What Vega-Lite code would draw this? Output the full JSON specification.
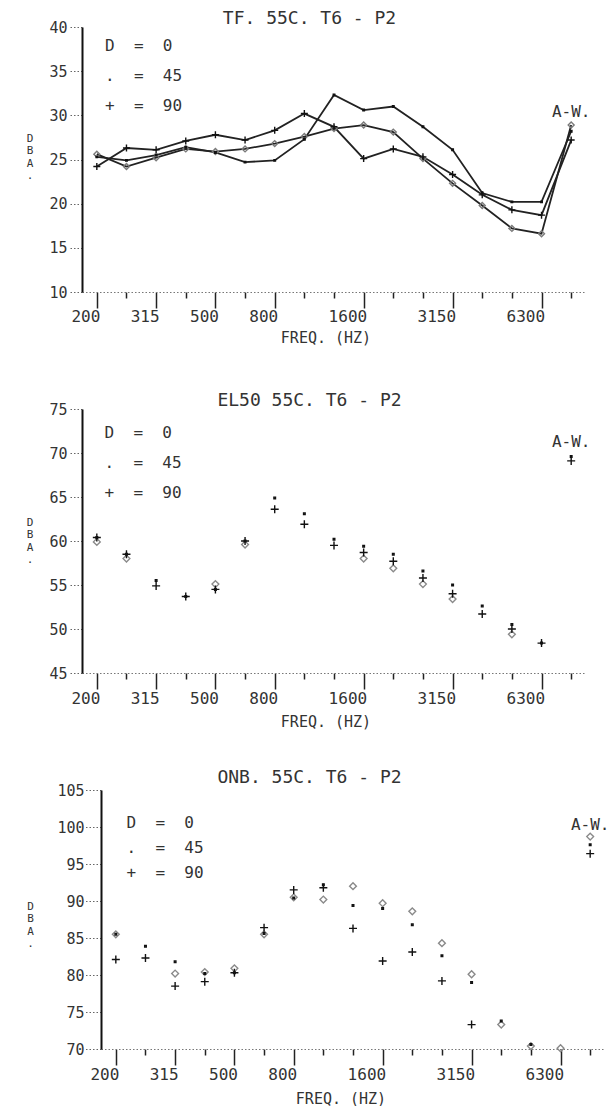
{
  "$schema": "https://vega.github.io/schema/vega-lite/v6.json",
  "background": "white",
  "padding": {"left": 26, "top": 10, "right": 0, "bottom": 0},
  "bounds": "flush",
  "spacing": 117,
  "config": {
    "font": "DejaVu Sans Mono",
    "view": {"stroke": null},
    "axis": {"labelFont": "DejaVu Sans Mono", "titleFont": "DejaVu Sans Mono", "labelColor": "#333", "titleColor": "#333", "titleFontWeight": "normal", "grid": false},
    "title": {"font": "DejaVu Sans Mono", "fontSize": 18, "fontWeight": "normal", "color": "#333", "anchor": "middle"},
    "legend": {"labelFont": "DejaVu Sans Mono"}
  },
  "datasets": {
    "tf": [
      {"freq": "200", "angle": "0", "dba": 25.6}, {"freq": "250", "angle": "0", "dba": 24.2}, {"freq": "315", "angle": "0", "dba": 25.2}, {"freq": "400", "angle": "0", "dba": 26.2}, {"freq": "500", "angle": "0", "dba": 25.9}, {"freq": "630", "angle": "0", "dba": 26.2}, {"freq": "800", "angle": "0", "dba": 26.8}, {"freq": "1000", "angle": "0", "dba": 27.6}, {"freq": "1250", "angle": "0", "dba": 28.5}, {"freq": "1600", "angle": "0", "dba": 28.9}, {"freq": "2000", "angle": "0", "dba": 28.1}, {"freq": "2500", "angle": "0", "dba": 25.1}, {"freq": "3150", "angle": "0", "dba": 22.3}, {"freq": "4000", "angle": "0", "dba": 19.8}, {"freq": "5000", "angle": "0", "dba": 17.2}, {"freq": "6300", "angle": "0", "dba": 16.6}, {"freq": "A-W", "angle": "0", "dba": 28.9},
      {"freq": "200", "angle": "45", "dba": 25.3}, {"freq": "250", "angle": "45", "dba": 24.9}, {"freq": "315", "angle": "45", "dba": 25.5}, {"freq": "400", "angle": "45", "dba": 26.4}, {"freq": "500", "angle": "45", "dba": 25.8}, {"freq": "630", "angle": "45", "dba": 24.7}, {"freq": "800", "angle": "45", "dba": 24.9}, {"freq": "1000", "angle": "45", "dba": 27.3}, {"freq": "1250", "angle": "45", "dba": 32.3}, {"freq": "1600", "angle": "45", "dba": 30.6}, {"freq": "2000", "angle": "45", "dba": 31.0}, {"freq": "2500", "angle": "45", "dba": 28.7}, {"freq": "3150", "angle": "45", "dba": 26.1}, {"freq": "4000", "angle": "45", "dba": 21.2}, {"freq": "5000", "angle": "45", "dba": 20.2}, {"freq": "6300", "angle": "45", "dba": 20.2}, {"freq": "A-W", "angle": "45", "dba": 28.2},
      {"freq": "200", "angle": "90", "dba": 24.2}, {"freq": "250", "angle": "90", "dba": 26.3}, {"freq": "315", "angle": "90", "dba": 26.1}, {"freq": "400", "angle": "90", "dba": 27.1}, {"freq": "500", "angle": "90", "dba": 27.8}, {"freq": "630", "angle": "90", "dba": 27.2}, {"freq": "800", "angle": "90", "dba": 28.3}, {"freq": "1000", "angle": "90", "dba": 30.2}, {"freq": "1250", "angle": "90", "dba": 28.7}, {"freq": "1600", "angle": "90", "dba": 25.1}, {"freq": "2000", "angle": "90", "dba": 26.2}, {"freq": "2500", "angle": "90", "dba": 25.3}, {"freq": "3150", "angle": "90", "dba": 23.3}, {"freq": "4000", "angle": "90", "dba": 21.0}, {"freq": "5000", "angle": "90", "dba": 19.3}, {"freq": "6300", "angle": "90", "dba": 18.7}, {"freq": "A-W", "angle": "90", "dba": 27.2}
    ],
    "el50": [
      {"freq": "200", "angle": "0", "dba": 59.9}, {"freq": "250", "angle": "0", "dba": 58.0}, {"freq": "500", "angle": "0", "dba": 55.1}, {"freq": "630", "angle": "0", "dba": 59.6}, {"freq": "1600", "angle": "0", "dba": 58.0}, {"freq": "2000", "angle": "0", "dba": 56.9}, {"freq": "2500", "angle": "0", "dba": 55.1}, {"freq": "3150", "angle": "0", "dba": 53.4}, {"freq": "5000", "angle": "0", "dba": 49.4},
      {"freq": "200", "angle": "45", "dba": 60.4}, {"freq": "250", "angle": "45", "dba": 58.5}, {"freq": "315", "angle": "45", "dba": 55.5}, {"freq": "400", "angle": "45", "dba": 53.7}, {"freq": "500", "angle": "45", "dba": 54.5}, {"freq": "630", "angle": "45", "dba": 60.0}, {"freq": "800", "angle": "45", "dba": 64.9}, {"freq": "1000", "angle": "45", "dba": 63.1}, {"freq": "1250", "angle": "45", "dba": 60.2}, {"freq": "1600", "angle": "45", "dba": 59.4}, {"freq": "2000", "angle": "45", "dba": 58.5}, {"freq": "2500", "angle": "45", "dba": 56.6}, {"freq": "3150", "angle": "45", "dba": 55.0}, {"freq": "4000", "angle": "45", "dba": 52.6}, {"freq": "5000", "angle": "45", "dba": 50.5}, {"freq": "6300", "angle": "45", "dba": 48.4}, {"freq": "A-W", "angle": "45", "dba": 69.6},
      {"freq": "200", "angle": "90", "dba": 60.4}, {"freq": "250", "angle": "90", "dba": 58.5}, {"freq": "315", "angle": "90", "dba": 54.9}, {"freq": "400", "angle": "90", "dba": 53.7}, {"freq": "500", "angle": "90", "dba": 54.5}, {"freq": "630", "angle": "90", "dba": 60.0}, {"freq": "800", "angle": "90", "dba": 63.6}, {"freq": "1000", "angle": "90", "dba": 61.9}, {"freq": "1250", "angle": "90", "dba": 59.5}, {"freq": "1600", "angle": "90", "dba": 58.7}, {"freq": "2000", "angle": "90", "dba": 57.7}, {"freq": "2500", "angle": "90", "dba": 55.8}, {"freq": "3150", "angle": "90", "dba": 54.0}, {"freq": "4000", "angle": "90", "dba": 51.7}, {"freq": "5000", "angle": "90", "dba": 50.0}, {"freq": "6300", "angle": "90", "dba": 48.4}, {"freq": "A-W", "angle": "90", "dba": 69.1}
    ],
    "onb": [
      {"freq": "200", "angle": "0", "dba": 85.5}, {"freq": "315", "angle": "0", "dba": 80.2}, {"freq": "400", "angle": "0", "dba": 80.4}, {"freq": "500", "angle": "0", "dba": 80.9}, {"freq": "630", "angle": "0", "dba": 85.5}, {"freq": "800", "angle": "0", "dba": 90.5}, {"freq": "1000", "angle": "0", "dba": 90.2}, {"freq": "1250", "angle": "0", "dba": 92.0}, {"freq": "1600", "angle": "0", "dba": 89.7}, {"freq": "2000", "angle": "0", "dba": 88.6}, {"freq": "2500", "angle": "0", "dba": 84.3}, {"freq": "3150", "angle": "0", "dba": 80.1}, {"freq": "4000", "angle": "0", "dba": 73.3}, {"freq": "5000", "angle": "0", "dba": 70.4}, {"freq": "6300", "angle": "0", "dba": 70.1}, {"freq": "A-W", "angle": "0", "dba": 98.7},
      {"freq": "200", "angle": "45", "dba": 85.5}, {"freq": "250", "angle": "45", "dba": 83.9}, {"freq": "315", "angle": "45", "dba": 81.8}, {"freq": "400", "angle": "45", "dba": 80.2}, {"freq": "500", "angle": "45", "dba": 80.3}, {"freq": "630", "angle": "45", "dba": 85.6}, {"freq": "800", "angle": "45", "dba": 90.4}, {"freq": "1000", "angle": "45", "dba": 92.2}, {"freq": "1250", "angle": "45", "dba": 89.4}, {"freq": "1600", "angle": "45", "dba": 89.0}, {"freq": "2000", "angle": "45", "dba": 86.8}, {"freq": "2500", "angle": "45", "dba": 82.6}, {"freq": "3150", "angle": "45", "dba": 79.0}, {"freq": "4000", "angle": "45", "dba": 73.8}, {"freq": "5000", "angle": "45", "dba": 70.6}, {"freq": "A-W", "angle": "45", "dba": 97.6},
      {"freq": "200", "angle": "90", "dba": 82.1}, {"freq": "250", "angle": "90", "dba": 82.3}, {"freq": "315", "angle": "90", "dba": 78.5}, {"freq": "400", "angle": "90", "dba": 79.1}, {"freq": "500", "angle": "90", "dba": 80.3}, {"freq": "630", "angle": "90", "dba": 86.4}, {"freq": "800", "angle": "90", "dba": 91.5}, {"freq": "1000", "angle": "90", "dba": 91.8}, {"freq": "1250", "angle": "90", "dba": 86.3}, {"freq": "1600", "angle": "90", "dba": 81.9}, {"freq": "2000", "angle": "90", "dba": 83.1}, {"freq": "2500", "angle": "90", "dba": 79.2}, {"freq": "3150", "angle": "90", "dba": 73.3}, {"freq": "A-W", "angle": "90", "dba": 96.4}
    ]
  },
  "resolve": {"scale": {"x": "independent", "y": "independent", "shape": "independent"}, "legend": {"shape": "independent"}, "axis": {"x": "independent", "y": "independent"}},
  "vconcat": [
    {
      "title": {"text": "TF. 55C. T6 - P2", "dx": -24.5, "offset": -8},
      "width": 504, "height": 265,
      "data": {"name": "tf"},
      "encoding": {
        "x": {"field": "freq", "type": "nominal",
          "sort": ["200","250","315","400","500","630","800","1000","1250","1600","2000","2500","3150","4000","5000","6300","A-W"],
          "scale": {"type": "point", "padding": 0.5, "domain": ["200","250","315","400","500","630","800","1000","1250","1600","2000","2500","3150","4000","5000","6300","A-W"]},
          "axis": {"title": "FREQ. (HZ)", "titleX": 243.5, "titleY": 45, "titleBaseline": "middle", "titleAlign": "center", "titleFontSize": 15,
            "labelExpr": "indexof(['200','315','500','800','1600','3150','6300'], datum.value) >= 0 ? datum.value : ''",
            "labelAngle": 0, "labelAlign": "right", "labelOffset": 3, "labelPadding": 0, "labelFontSize": 16, "labelBaseline": "top", "labelOverlap": false, "labelBound": false,
            "tickSize": {"condition": {"test": "indexof(['200','315','500','800','1600','3150','6300'], datum.value) >= 0", "value": 16}, "value": 6},
            "tickColor": "#222", "tickWidth": 1.5, "domainColor": "#777", "domainDash": [1.5, 2], "domainWidth": 1.2}},
        "y": {"field": "dba", "type": "quantitative", "scale": {"domain": [10, 40], "nice": false, "zero": false},
          "axis": {"title": ["D", "B", "A", "."], "titleAngle": 0, "titleX": -52.5, "titleY": 111, "titleAlign": "center", "titleBaseline": "middle", "titleLineHeight": 12.5, "titleFontSize": 11,
            "values": [10, 15, 20, 25, 30, 35, 40], "tickSize": 14, "tickDash": [1.5, 2], "tickColor": "#666", "tickWidth": 1.2, "labelPadding": 1, "labelFontSize": 15, "domainColor": "#111", "domainWidth": 2}}
      },
      "layer": [
        {"mark": {"type": "line", "color": "#222", "strokeWidth": 1.8}, "encoding": {"detail": {"field": "angle", "type": "nominal"}}},
        {"mark": {"type": "point", "filled": false, "size": 49, "strokeWidth": 1.4, "opacity": 1},
          "encoding": {
            "shape": {"field": "angle", "type": "nominal", "scale": {"domain": ["0", "45", "90"], "range": ["M0,-0.85L0.85,0L0,0.85L-0.85,0Z", "M-0.22,-0.22L0.22,-0.22L0.22,0.22L-0.22,0.22Z", "M-1,0L1,0M0,-1L0,1"]},
              "legend": {"title": null, "orient": "none", "legendX": 7, "legendY": 10.7, "symbolOpacity": 0, "symbolSize": 1, "symbolStrokeWidth": 0, "labelOffset": 0, "labelFontSize": 16, "labelColor": "#333", "rowPadding": 14, "padding": 0,
                "labelExpr": "datum.label === '0' ? 'D\u00a0\u00a0=\u00a0\u00a00' : (datum.label === '45' ? '.\u00a0\u00a0=\u00a0\u00a045' : '+\u00a0\u00a0=\u00a0\u00a090')"}},
            "color": {"condition": {"test": "datum.angle === '0'", "value": "#7a7a7a"}, "value": "#111"}
          }},
        {"data": {"values": [{"freq": "A-W", "dba": 30.4, "t": "A-W."}]}, "mark": {"type": "text", "font": "DejaVu Sans Mono", "fontSize": 16, "color": "#333", "align": "center", "baseline": "middle"}, "encoding": {"text": {"field": "t", "type": "nominal"}}}
      ]
    },
    {
      "title": {"text": "EL50 55C. T6 - P2", "dx": -24.5, "offset": -7.5},
      "width": 504, "height": 264,
      "data": {"name": "el50"},
      "encoding": {
        "x": {"field": "freq", "type": "nominal",
          "sort": ["200","250","315","400","500","630","800","1000","1250","1600","2000","2500","3150","4000","5000","6300","A-W"],
          "scale": {"type": "point", "padding": 0.5, "domain": ["200","250","315","400","500","630","800","1000","1250","1600","2000","2500","3150","4000","5000","6300","A-W"]},
          "axis": {"title": "FREQ. (HZ)", "titleX": 243.5, "titleY": 48, "titleBaseline": "middle", "titleAlign": "center", "titleFontSize": 15,
            "labelExpr": "indexof(['200','315','500','800','1600','3150','6300'], datum.value) >= 0 ? datum.value : ''",
            "labelAngle": 0, "labelAlign": "right", "labelOffset": 3, "labelPadding": 1, "labelFontSize": 16, "labelBaseline": "top", "labelOverlap": false, "labelBound": false,
            "tickSize": {"condition": {"test": "indexof(['200','315','500','800','1600','3150','6300'], datum.value) >= 0", "value": 16}, "value": 6},
            "tickColor": "#222", "tickWidth": 1.5, "domainColor": "#777", "domainDash": [1.5, 2], "domainWidth": 1.2}},
        "y": {"field": "dba", "type": "quantitative", "scale": {"domain": [45, 75], "nice": false, "zero": false},
          "axis": {"title": ["D", "B", "A", "."], "titleAngle": 0, "titleX": -52.5, "titleY": 113, "titleAlign": "center", "titleBaseline": "middle", "titleLineHeight": 12.5, "titleFontSize": 11,
            "values": [45, 50, 55, 60, 65, 70, 75], "tickSize": 14, "tickDash": [1.5, 2], "tickColor": "#666", "tickWidth": 1.2, "labelPadding": 1, "labelFontSize": 15, "domainColor": "#111", "domainWidth": 2}}
      },
      "layer": [
        {"mark": {"type": "point", "filled": false, "size": 64, "strokeWidth": 1.4, "opacity": 1},
          "encoding": {
            "shape": {"field": "angle", "type": "nominal", "scale": {"domain": ["0", "45", "90"], "range": ["M0,-0.85L0.85,0L0,0.85L-0.85,0Z", "M-0.2,-0.2L0.2,-0.2L0.2,0.2L-0.2,0.2Z", "M-1,0L1,0M0,-1L0,1"]},
              "legend": {"title": null, "orient": "none", "legendX": 6.5, "legendY": 15.5, "symbolOpacity": 0, "symbolSize": 1, "symbolStrokeWidth": 0, "labelOffset": 0, "labelFontSize": 16, "labelColor": "#333", "rowPadding": 14, "padding": 0,
                "labelExpr": "datum.label === '0' ? 'D\u00a0\u00a0=\u00a0\u00a00' : (datum.label === '45' ? '.\u00a0\u00a0=\u00a0\u00a045' : '+\u00a0\u00a0=\u00a0\u00a090')"}},
            "color": {"condition": {"test": "datum.angle === '0'", "value": "#8a8a8a"}, "value": "#111"}
          }},
        {"data": {"values": [{"freq": "A-W", "dba": 71.3, "t": "A-W."}]}, "mark": {"type": "text", "font": "DejaVu Sans Mono", "fontSize": 16, "color": "#333", "align": "center", "baseline": "middle"}, "encoding": {"text": {"field": "t", "type": "nominal"}}}
      ]
    },
    {
      "title": {"text": "ONB. 55C. T6 - P2", "dx": -34, "offset": -3.5},
      "width": 523, "height": 259,
      "data": {"name": "onb"},
      "encoding": {
        "x": {"field": "freq", "type": "nominal",
          "sort": ["200","250","315","400","500","630","800","1000","1250","1600","2000","2500","3150","4000","5000","6300","A-W"],
          "scale": {"type": "point", "padding": 0.5, "range": [19, 523], "domain": ["200","250","315","400","500","630","800","1000","1250","1600","2000","2500","3150","4000","5000","6300","A-W"]},
          "axis": {"title": "FREQ. (HZ)", "titleX": 258.5, "titleY": 49, "titleBaseline": "middle", "titleAlign": "center", "titleFontSize": 15,
            "labelExpr": "indexof(['200','315','500','800','1600','3150','6300'], datum.value) >= 0 ? datum.value : ''",
            "labelAngle": 0, "labelAlign": "right", "labelOffset": 3, "labelPadding": 1, "labelFontSize": 16, "labelBaseline": "top", "labelOverlap": false, "labelBound": false,
            "tickSize": {"condition": {"test": "indexof(['200','315','500','800','1600','3150','6300'], datum.value) >= 0", "value": 16}, "value": 6},
            "tickColor": "#222", "tickWidth": 1.5, "domainColor": "#777", "domainDash": [1.5, 2], "domainWidth": 1.2}},
        "y": {"field": "dba", "type": "quantitative", "scale": {"domain": [70, 105], "nice": false, "zero": false},
          "axis": {"offset": -19, "title": ["D", "B", "A", "."], "titleAngle": 0, "titleX": -71, "titleY": 116, "titleAlign": "center", "titleBaseline": "middle", "titleLineHeight": 12.5, "titleFontSize": 11,
            "values": [70, 75, 80, 85, 90, 95, 100, 105], "tickSize": 16, "tickDash": [1.5, 2], "tickColor": "#666", "tickWidth": 1.2, "labelPadding": 1, "labelFontSize": 15, "domainColor": "#111", "domainWidth": 2}}
      },
      "layer": [
        {"mark": {"type": "point", "filled": false, "size": 64, "strokeWidth": 1.4, "opacity": 1},
          "encoding": {
            "shape": {"field": "angle", "type": "nominal", "scale": {"domain": ["0", "45", "90"], "range": ["M0,-0.85L0.85,0L0,0.85L-0.85,0Z", "M-0.2,-0.2L0.2,-0.2L0.2,0.2L-0.2,0.2Z", "M-1,0L1,0M0,-1L0,1"]},
              "legend": {"title": null, "orient": "none", "legendX": 28.5, "legendY": 25.2, "symbolOpacity": 0, "symbolSize": 1, "symbolStrokeWidth": 0, "labelOffset": 0, "labelFontSize": 16, "labelColor": "#333", "rowPadding": 9, "padding": 0,
                "labelExpr": "datum.label === '0' ? 'D\u00a0\u00a0=\u00a0\u00a00' : (datum.label === '45' ? '.\u00a0\u00a0=\u00a0\u00a045' : '+\u00a0\u00a0=\u00a0\u00a090')"}},
            "color": {"condition": {"test": "datum.angle === '0'", "value": "#8a8a8a"}, "value": "#111"}
          }},
        {"data": {"values": [{"freq": "A-W", "dba": 100.3, "t": "A-W."}]}, "mark": {"type": "text", "font": "DejaVu Sans Mono", "fontSize": 16, "color": "#333", "align": "center", "baseline": "middle"}, "encoding": {"text": {"field": "t", "type": "nominal"}}}
      ]
    }
  ]
}
